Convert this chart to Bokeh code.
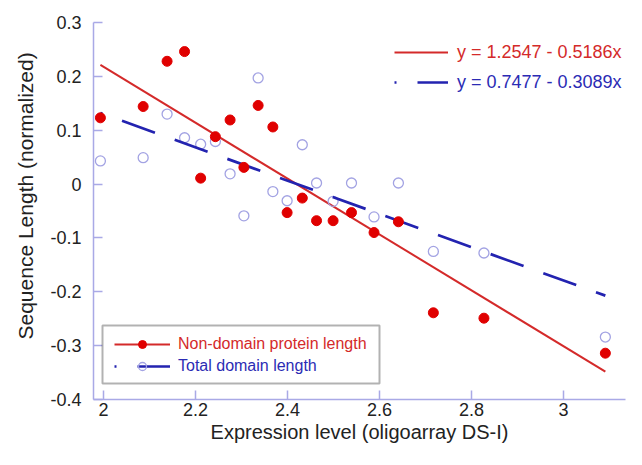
from bokeh.plotting import figure
from bokeh.models import Legend, LegendItem, FixedTicker, BoxAnnotation, Range1d, Title
from bokeh.embed import file_html
from bokeh.resources import INLINE

# ---- data ----
expression = [1.993, 2.086, 2.138, 2.176, 2.211, 2.243, 2.275, 2.305, 2.336, 2.368,
              2.399, 2.432, 2.463, 2.499, 2.539, 2.588, 2.641, 2.717, 2.827, 3.091]
non_domain = [0.123, 0.144, 0.228, 0.246, 0.011, 0.088, 0.119, 0.031, 0.146, 0.106,
              -0.053, -0.026, -0.068, -0.068, -0.053, -0.090, -0.070, -0.239, -0.249, -0.314]
total_domain = [0.043, 0.049, 0.130, 0.086, 0.074, 0.079, 0.019, -0.059, 0.197, -0.014,
                -0.031, 0.073, 0.002, -0.032, 0.002, -0.061, 0.002, -0.125, -0.128, -0.284]

series_names = ["Non-domain protein length", "Total domain length"]
fit_intercept = [1.2547, 0.7477]
fit_slope = [0.5186, 0.3089]

x_ticks = [2, 2.2, 2.4, 2.6, 2.8, 3]
x_tick_labels = ["2", "2.2", "2.4", "2.6", "2.8", "3"]
y_ticks = [-0.4, -0.3, -0.2, -0.1, 0, 0.1, 0.2, 0.3]
y_tick_labels = ["-0.4", "-0.3", "-0.2", "-0.1", "0", "0.1", "0.2", "0.3"]

x_title = "Expression level (oligoarray DS-I)"
y_title = "Sequence Length (normalized)"

RED = "#e00000"
RED_LINE = "#d42a2a"
RED_TEXT = "#d42a2a"
BLUE_LINE = "#2323b0"
BLUE_TEXT = "#2b2bb4"
BLUE_CIRCLE = "#a3a3e3"
AXIS = "#a9a9e6"
FONT = "Liberation Sans"

p = figure(width=626, height=449, output_backend="svg", toolbar_location=None,
           x_range=Range1d(1.978, 3.1348), y_range=Range1d(-0.4, 0.3),
           min_border_left=93, min_border_right=1, min_border_top=22, min_border_bottom=50)
p.outline_line_color = None
p.xgrid.visible = False
p.ygrid.visible = False

for ax, ticks, labels in ((p.xaxis[0], x_ticks, x_tick_labels), (p.yaxis[0], y_ticks, y_tick_labels)):
    ax.ticker = FixedTicker(ticks=ticks)
    ax.major_label_overrides = dict(zip(ticks, labels))
    ax.axis_line_color = AXIS
    ax.axis_line_width = 1.5
    ax.major_tick_line_color = AXIS
    ax.major_tick_line_width = 1.5
    ax.major_tick_in = 9
    ax.major_tick_out = 0
    ax.minor_tick_line_color = None
    ax.major_label_text_font = FONT
    ax.major_label_text_font_size = "18px"
    ax.major_label_text_color = "#222222"
    ax.axis_label_text_font = FONT
    ax.axis_label_text_font_size = "20px"
    ax.axis_label_text_font_style = "normal"
    ax.axis_label_text_color = "#222222"

p.xaxis.axis_label = x_title
p.xaxis.major_label_standoff = 3
p.xaxis.axis_label_standoff = 2
p.yaxis.major_label_standoff = 12

# y title as a side title, starting a little above the frame bottom (as in the reference)
p.add_layout(Title(text=y_title, align="left", vertical_align="bottom", offset=60, standoff=22,
                   text_font=FONT, text_font_size="21px", text_font_style="normal",
                   text_color="#222222"), "left")

# regression lines
xf = [min(expression), max(expression)]
red_fit_y = [fit_intercept[0] - fit_slope[0] * v for v in xf]
blue_fit_y = [fit_intercept[1] - fit_slope[1] * v for v in xf]

red_line = p.line(xf, red_fit_y, line_color=RED_LINE, line_width=2)
blue_pts = p.scatter(expression, total_domain, marker="circle", size=10,
                     fill_color=None, line_color=BLUE_CIRCLE, line_width=1.3)
blue_line = p.line(xf, blue_fit_y, line_color=BLUE_LINE, line_width=2.7,
                   line_dash="35 21", line_dash_offset=33)
red_pts = p.scatter(expression, non_domain, marker="circle", size=10,
                    fill_color=RED, line_color=RED)

def add_legend(items, loc, color, size, gw, gh, standoff):
    lg = Legend(items=items, location=loc, orientation="vertical",
                label_text_font=FONT, label_text_font_size=size,
                label_text_color=color, glyph_width=gw, glyph_height=gh,
                label_height=gh, label_standoff=standoff, padding=0, margin=0,
                spacing=0, border_line_color=None, background_fill_alpha=0)
    p.add_layout(lg)

# equations legend (top right)
eq_red = "y = %.4f - %.4fx" % (fit_intercept[0], fit_slope[0])
eq_blue = "y = %.4f - %.4fx" % (fit_intercept[1], fit_slope[1])
add_legend([LegendItem(label=eq_red, renderers=[red_line])], (301, 335), RED_TEXT, "18px", 54, 24, 9)
add_legend([LegendItem(label=eq_blue, renderers=[blue_line])], (301, 305), BLUE_TEXT, "18px", 54, 24, 9)

# series legend (bottom left, boxed)
box = BoxAnnotation(left=9, right=286, bottom=16, top=74,
                    left_units="screen", right_units="screen",
                    bottom_units="screen", top_units="screen",
                    fill_color="white", fill_alpha=1, line_color="black", line_width=2)
p.add_layout(box)
add_legend([LegendItem(label=series_names[0], renderers=[red_line, red_pts])], (21, 45), RED_TEXT, "16px", 56, 20, 8)
add_legend([LegendItem(label=series_names[1], renderers=[blue_line, blue_pts])], (21, 23), BLUE_TEXT, "16px", 56, 20, 8)

open("out.html", "w").write(file_html(p, INLINE))
